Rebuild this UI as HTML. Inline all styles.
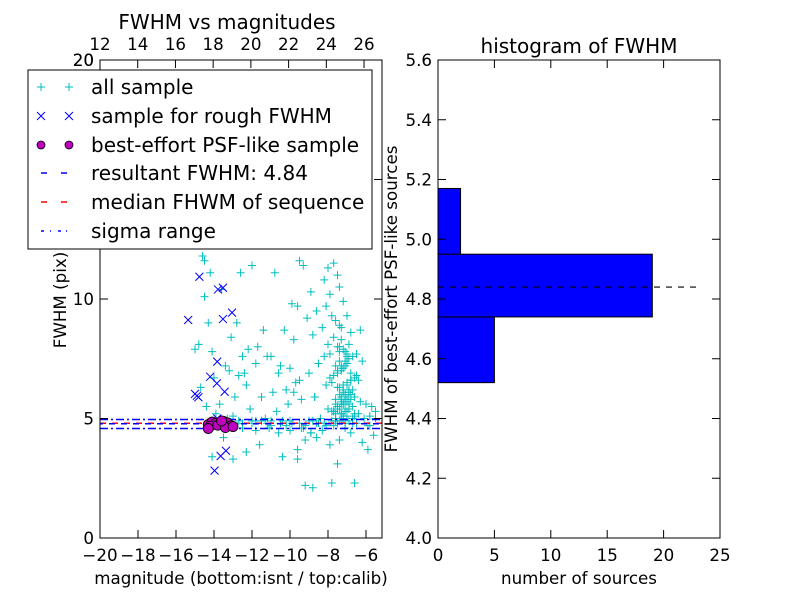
<!DOCTYPE html>
<html><head><meta charset="utf-8"><style>
body{margin:0;background:#fff;}
svg{font-family:"DejaVu Sans","Liberation Sans",sans-serif;}
</style></head><body>
<svg id="c" width="800" height="600" xmlns="http://www.w3.org/2000/svg"></svg>
<script>
const allX=[-14.6,-14.5,-14.2,-13.6,-12.6,-12.0,-10.8,-9.3,-8.4,-8.0,-7.7,-7.5,-14.8,-14.3,-13.1,-12.5,-11.4,-10.3,-9.6,-8.9,-8.2,-7.9,-7.4,-7.2,-15.0,-14.1,-13.4,-12.8,-12.2,-11.7,-11.0,-10.5,-9.8,-9.1,-8.6,-8.1,-7.8,-7.6,-7.3,-7.0,-6.8,-14.7,-14.0,-13.2,-12.4,-11.8,-11.2,-10.6,-10.0,-9.5,-8.8,-8.3,-8.0,-7.7,-7.5,-7.3,-7.1,-6.9,-6.7,-6.5,-14.4,-13.7,-12.9,-12.3,-11.5,-10.9,-10.2,-9.7,-9.0,-8.5,-8.2,-7.9,-7.6,-7.4,-7.2,-7.0,-6.8,-6.6,-6.4,-6.2,-13.9,-13.0,-12.1,-11.3,-10.7,-10.1,-9.4,-8.7,-8.1,-7.8,-7.5,-7.2,-6.9,-6.6,-6.3,-6.0,-5.7,-12.7,-12.0,-11.5,-11.0,-10.4,-9.9,-9.3,-8.8,-8.4,-8.0,-7.6,-7.3,-7.0,-6.7,-6.4,-6.1,-5.8,-5.5,-12.5,-11.8,-11.1,-10.6,-10.0,-9.4,-8.9,-8.3,-7.7,-7.1,-6.5,-5.9,-13.5,-12.3,-11.6,-9.2,-8.6,-7.9,-7.4,-6.8,-6.2,-5.6,-14.1,-13.0,-9.6,-9.2,-8.8,-7.8,-6.6,-5.9,-7.5,-7.3,-7.1,-6.9,-7.6,-7.4,-7.2,-7.0,-6.8,-7.7,-7.5,-7.3,-7.1,-7.0,-7.4,-7.2,-7.6,-7.8,-7.5,-7.3,-7.9,-7.6,-8.1,-7.7,-7.4,-9.8,-9.5,-9.9,-14.5,-13.3,-11.8,-10.4,-9.6,-8.7,-8.9,-12.7,-6.3,-5.5,-5.8,
-7.4,-7.2,-7.0,-7.3,-7.1,-6.9,-7.5,-7.2,-7.0,-6.8,-7.3,-7.1,-6.9,-6.7,-7.4,-7.2,-7.0,-6.8,-6.6,-7.5,-7.3,-7.1,-6.9,-6.7,-7.6,-7.4,-7.2,-7.0,-6.8,-6.6,-7.7,-7.5,-7.3,-7.1,-6.9,-6.7,-6.5,-7.3,-7.1,-6.9,-7.0,-7.2,-7.4,-7.6,-7.8,-7.5,-7.3,-7.1,-6.9,-6.7,-11.5,-11.0,-10.5,-10.0,-9.5,-9.0,-8.5,-12.0,-12.5,-11.2,-10.2,-9.2,-8.6,-8.2];
const allY=[11.8,11.6,11.1,10.4,11.1,11.4,11.1,11.4,12.3,11.3,11.5,11.0,8.1,9.0,8.4,7.6,8.7,8.7,9.7,10.3,10.8,10.2,10.5,9.9,7.9,7.8,7.2,9.0,7.9,8.0,7.6,7.2,8.3,9.2,9.5,9.7,9.3,9.1,8.8,9.3,8.6,6.3,6.7,7.0,6.9,7.3,7.6,6.9,7.1,6.6,8.5,8.8,8.1,8.4,8.0,8.3,7.8,8.1,7.6,7.7,5.5,5.6,5.9,6.4,5.9,6.1,6.2,6.5,6.9,7.3,7.6,7.7,7.2,7.4,7.1,7.3,6.9,6.7,6.6,7.4,5.2,5.1,5.4,5.0,5.3,5.6,5.8,5.9,6.4,6.5,6.3,6.1,6.2,5.9,5.7,5.6,5.5,4.9,4.8,4.9,4.7,4.9,4.8,4.6,4.9,5.0,5.4,5.6,5.8,5.3,5.5,5.2,5.0,5.1,5.3,4.6,4.5,4.6,4.4,4.5,4.6,4.4,4.5,4.7,4.6,4.8,4.7,4.2,3.6,3.9,4.1,4.2,3.9,4.1,4.4,4.0,4.3,3.4,3.3,3.7,2.2,2.1,2.3,2.3,3.7,3.1,5.2,5.4,5.6,5.8,6.0,6.2,6.4,6.6,6.8,7.0,7.2,7.4,7.6,7.8,5.1,4.9,5.3,6.9,7.1,6.7,5.0,4.7,5.3,8.9,6.1,11.6,9.8,10.1,5.0,4.9,3.4,3.3,5.9,4.4,6.8,8.7,5.0,4.7,4.9,
5.0,5.1,5.2,5.3,5.4,5.5,5.6,5.7,5.8,5.9,6.0,6.1,6.2,6.3,6.4,6.5,6.6,5.2,5.4,5.6,5.8,6.0,5.0,5.2,5.4,5.6,5.8,6.0,5.1,5.3,5.5,5.7,5.9,6.1,5.0,6.8,7.0,7.2,7.5,7.7,7.9,8.0,4.9,4.9,4.8,4.9,4.8,4.9,4.8,4.9,4.9,4.8,4.9,4.8,4.9,4.8,4.9,4.8,4.8,4.7,4.7,4.8,4.8,4.8];
const roughX=[-14.77,-15.36,-13.79,-13.53,-13.53,-13.05,-13.83,-14.2,-13.85,-13.44,-15.0,-14.82,-14.9,-13.83,-13.37,-13.65,-13.97];
const roughY=[10.93,9.12,10.4,10.47,9.16,9.43,7.38,6.75,6.47,6.12,6.03,5.89,5.95,5.0,3.65,3.43,2.82];
const psfX=[-14.3,-14.1,-13.9,-13.7,-13.5,-13.3,-13.1,-14.2,-13.8,-13.4,-13.0,-14.3,-13.6];
const psfY=[4.75,4.85,4.80,4.78,4.88,4.82,4.70,4.68,4.72,4.62,4.66,4.58,4.90];
const fwhm=4.78, medianF=4.80, sigLo=4.58, sigHi=4.96;
const binEdges=[4.52,4.74,4.95,5.17];
const binCounts=[5,19,2];
const histLine=4.84, histLineEnd=23;
const bTicks=[-20,-18,-16,-14,-12,-10,-8,-6];
const tTicks=[12,14,16,18,20,22,24,26];
const lTicks=[0,5,10,15,20];
const hxTicks=[0,5,10,15,20,25];
const hyTicks=[4.0,4.2,4.4,4.6,4.8,5.0,5.2,5.4,5.6];

const svg=document.getElementById('c');const NS='http://www.w3.org/2000/svg';
function mk(t,a,p){const e=document.createElementNS(NS,t);for(const k in a)e.setAttribute(k,a[k]);(p||svg).appendChild(e);return e;}
const xsb=v=>100+(v+20)*19.0;
const xst=v=>100+(v-12)*18.86;
const ys=v=>538-v*23.9;
const hx=v=>438+v*(282/25);
const hy=v=>538-(v-4.0)/1.6*478;
const TS=16.7;

const defs=mk('defs',{});const cp=mk('clipPath',{id:'lc'},defs);mk('rect',{x:100,y:60,width:282,height:478},cp);
const g=mk('g',{'clip-path':'url(#lc)'});


let e;
allX.forEach((x,i)=>{const px=xsb(x),py=ys(allY[i]);
 e=mk('path',{d:`M${px-4} ${py}H${px+4}M${px} ${py-4}V${py+4}`,stroke:'#00bfbf','stroke-width':1},g);
 });
e=mk('line',{x1:100,x2:382,y1:ys(sigHi),y2:ys(sigHi),stroke:'#0000ff','stroke-width':1.5,'stroke-dasharray':'8 3 2 3'},g);

e=mk('line',{x1:100,x2:382,y1:ys(sigLo),y2:ys(sigLo),stroke:'#0000ff','stroke-width':1.5,'stroke-dasharray':'8 3 2 3'},g);

e=mk('line',{x1:100,x2:382,y1:ys(medianF),y2:ys(medianF),stroke:'#ff0000','stroke-width':1.5,'stroke-dasharray':'6 6'},g);

e=mk('line',{x1:100,x2:382,y1:ys(fwhm),y2:ys(fwhm),stroke:'#0000ff','stroke-width':1.5,'stroke-dasharray':'6 6','stroke-dashoffset':3},g);

roughX.forEach((x,i)=>{const px=xsb(x),py=ys(roughY[i]);
 e=mk('path',{d:`M${px-4} ${py-4}L${px+4} ${py+4}M${px-4} ${py+4}L${px+4} ${py-4}`,stroke:'#0000ff','stroke-width':1},g);
 });
psfX.forEach((x,i)=>{
 e=mk('circle',{cx:xsb(x),cy:ys(psfY[i]),r:5,fill:'#bf00bf',stroke:'#000','stroke-width':0.8},g);
 });

function txt(s,x,y,sz,anchor,name,extra){const t=mk('text',Object.assign({x:x,y:y,'font-size':sz,'text-anchor':anchor||'middle',fill:'#000'},extra||{}));t.textContent=s;
 return t;}
e=mk('rect',{x:100,y:60,width:282,height:478,fill:'none',stroke:'#000','stroke-width':1});

bTicks.forEach(v=>{const x=xsb(v);mk('line',{x1:x,x2:x,y1:538,y2:530,stroke:'#000'});txt('\u2212'+Math.abs(v),x,561,TS,'middle','x-tick-label');});
tTicks.forEach(v=>{const x=xst(v);mk('line',{x1:x,x2:x,y1:60,y2:68,stroke:'#000'});txt(String(v),x,50,TS,'middle','top-x-tick-label');});
lTicks.forEach(v=>{const y=ys(v);mk('line',{x1:100,x2:108,y1:y,y2:y,stroke:'#000'});mk('line',{x1:382,x2:374,y1:y,y2:y,stroke:'#000'});txt(String(v),94,y+6,TS,'end','y-tick-label');});
txt('FWHM vs magnitudes',227,29,20,'middle','left-chart-title');
txt('magnitude (bottom:isnt / top:calib)',241,584,16.7,'middle','x-axis-title');
txt('FWHM (pix)',66,300,16.7,'middle','y-axis-title',{transform:'rotate(-90 66 300)'});

const lg=mk('g',{});
mk('rect',{x:28,y:70,width:344,height:179,fill:'#fff',stroke:'#000','stroke-width':1},lg);
const ly=[87,116,145,173,202,231];
const labels=['all sample','sample for rough FWHM','best-effort PSF-like sample','resultant FWHM: 4.84','median FHWM of sequence','sigma range'];
[41,69].forEach(x=>{
 mk('path',{d:`M${x-4} ${ly[0]}H${x+4}M${x} ${ly[0]-4}V${ly[0]+4}`,stroke:'#00bfbf'},lg);
 mk('path',{d:`M${x-4} ${ly[1]-4}L${x+4} ${ly[1]+4}M${x-4} ${ly[1]+4}L${x+4} ${ly[1]-4}`,stroke:'#0000ff'},lg);
 mk('circle',{cx:x,cy:ly[2],r:4,fill:'#bf00bf',stroke:'#000','stroke-width':0.8},lg);});
mk('path',{d:`M41 ${ly[3]}H47M61 ${ly[3]}H67`,stroke:'#0000ff','stroke-width':1.5},lg);
mk('path',{d:`M41 ${ly[4]}H47M61 ${ly[4]}H67`,stroke:'#ff0000','stroke-width':1.5},lg);
mk('path',{d:`M41 ${ly[5]}H44M50 ${ly[5]}H51M58 ${ly[5]}H61M66 ${ly[5]}H67`,stroke:'#0000ff','stroke-width':1.5},lg);
labels.forEach((s,i)=>{const t=txt(s,91,ly[i]+7,20,'start','legend-label');lg.appendChild(t);});
txt('20',94,66,TS,'end','y-tick-label-top');

binCounts.forEach((c,i)=>{e=mk('rect',{x:hx(0),y:hy(binEdges[i+1]),width:hx(c)-hx(0),height:hy(binEdges[i])-hy(binEdges[i+1]),fill:'#0000ff',stroke:'#000','stroke-width':1});
 });
e=mk('line',{x1:hx(0),x2:hx(histLineEnd),y1:hy(histLine),y2:hy(histLine),stroke:'#000','stroke-width':1.2,'stroke-dasharray':'6 6'});

e=mk('rect',{x:438,y:60,width:282,height:478,fill:'none',stroke:'#000','stroke-width':1});

hxTicks.forEach(v=>{const x=hx(v);mk('line',{x1:x,x2:x,y1:538,y2:530,stroke:'#000'});mk('line',{x1:x,x2:x,y1:60,y2:68,stroke:'#000'});txt(String(v),x,561,TS,'middle','hist-x-tick-label');});
hyTicks.forEach(v=>{const y=hy(v);mk('line',{x1:438,x2:446,y1:y,y2:y,stroke:'#000'});mk('line',{x1:720,x2:712,y1:y,y2:y,stroke:'#000'});txt(v.toFixed(1),432,y+6,TS,'end','hist-y-tick-label');});
txt('histogram of FWHM',579,53,20,'middle','right-chart-title');
txt('number of sources',579,584,16.7,'middle','hist-x-axis-title');
txt('FWHM of best-effort PSF-like sources',397,299,16.7,'middle','hist-y-axis-title',{transform:'rotate(-90 397 299)'});
</script>
</body></html>
